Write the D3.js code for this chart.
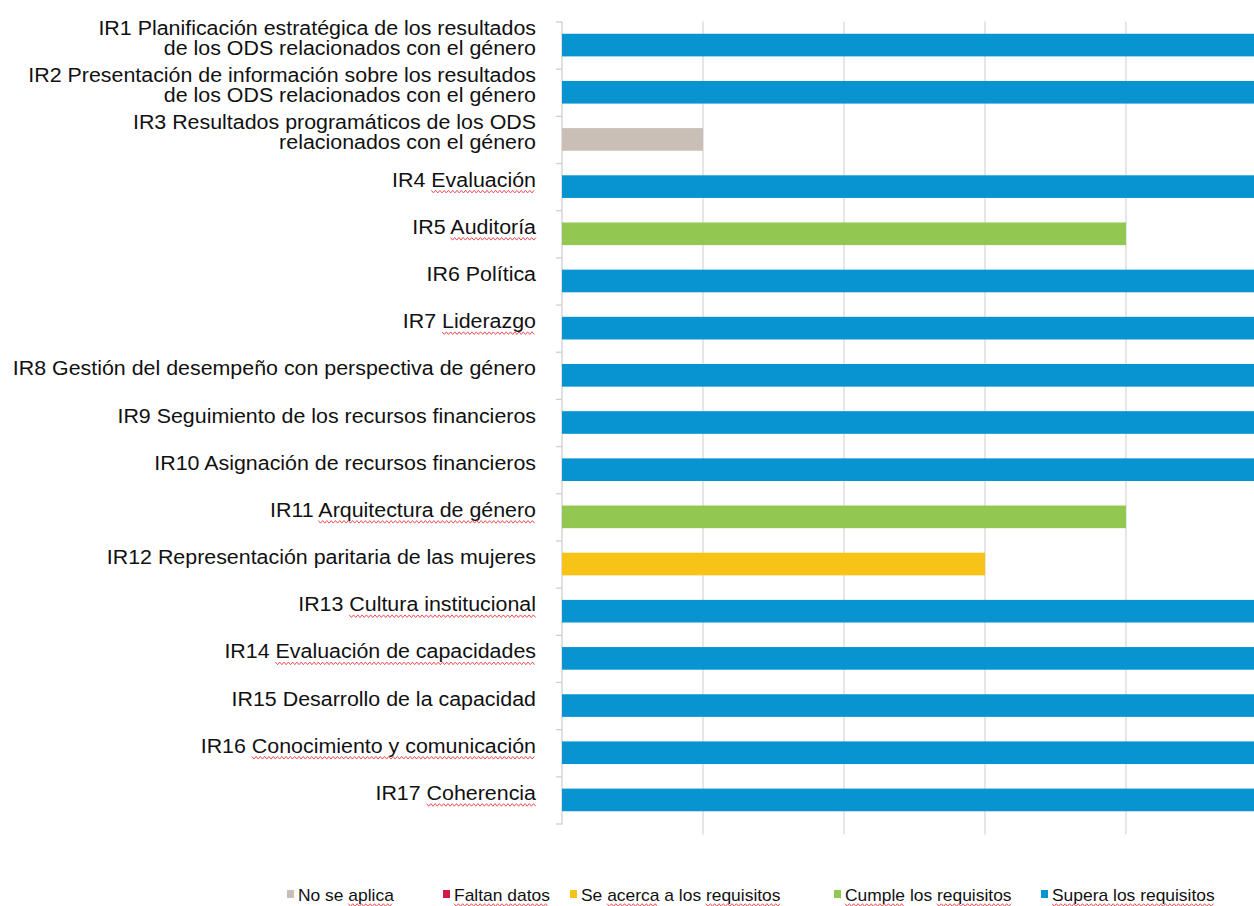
<!DOCTYPE html>
<html>
<head>
<meta charset="utf-8">
<script src="https://cdn.jsdelivr.net/npm/d3@7"></script>
<style>
  body { margin: 0; background: #fff; overflow: hidden; }
  text { font-family: "Liberation Sans", Arial, sans-serif; fill: #111; }
</style>
</head>
<body>
<div id="chart"></div>
<script>
// indicator labels (line breaks where the original wraps)
const categories = [
    ['IR1 Planificación estratégica de los resultados', 'de los ODS relacionados con el género'],
    ['IR2 Presentación de información sobre los resultados', 'de los ODS relacionados con el género'],
    ['IR3 Resultados programáticos de los ODS', 'relacionados con el género'],
    ['IR4 Evaluación'],
    ['IR5 Auditoría'],
    ['IR6 Política'],
    ['IR7 Liderazgo'],
    ['IR8 Gestión del desempeño con perspectiva de género'],
    ['IR9 Seguimiento de los recursos financieros'],
    ['IR10 Asignación de recursos financieros'],
    ['IR11 Arquitectura de género'],
    ['IR12 Representación paritaria de las mujeres'],
    ['IR13 Cultura institucional'],
    ['IR14 Evaluación de capacidades'],
    ['IR15 Desarrollo de la capacidad'],
    ['IR16 Conocimiento y comunicación'],
    ['IR17 Coherencia']
];
const values = [5, 5, 1, 5, 4, 5, 5, 5, 5, 5, 4, 3, 5, 5, 5, 5, 5];
const ratings = ['Supera los requisitos', 'Supera los requisitos', 'No se aplica', 'Supera los requisitos',
    'Cumple los requisitos', 'Supera los requisitos', 'Supera los requisitos', 'Supera los requisitos',
    'Supera los requisitos', 'Supera los requisitos', 'Cumple los requisitos', 'Se acerca a los requisitos',
    'Supera los requisitos', 'Supera los requisitos', 'Supera los requisitos', 'Supera los requisitos',
    'Supera los requisitos'];
const legendLabels = ['No se aplica', 'Faltan datos', 'Se acerca a los requisitos', 'Cumple los requisitos', 'Supera los requisitos'];
const legendColors = ['#c9bfb6', '#d01945', '#f7c316', '#92c851', '#0894d1'];
const xTicks = [0, 1, 2, 3, 4, 5];
// words the original screenshot shows with a spell-check squiggle
const squiggleLabels = {3: ['Evaluación'], 4: ['Auditoría'], 6: ['Liderazgo'], 10: ['Arquitectura de género'],
    12: ['Cultura institucional'], 13: ['Evaluación de capacidades'], 15: ['Conocimiento y comunicación'], 16: ['Coherencia']};
const squiggleLegend = [['aplica'], ['Faltan datos'], ['acerca', 'requisitos'], ['Cumple', 'requisitos'], ['Supera los requisitos']];

const width = 1254, height = 906;
const margin = {top: 21.5, left: 562, bottom: 82.5};

const svg = d3.select('#chart').append('svg')
    .attr('width', width)
    .attr('height', height);

const x = d3.scaleLinear()
    .domain([0, 5])
    .range([margin.left, margin.left + 5 * 141]);

const y = d3.scaleBand()
    .domain(d3.range(categories.length))
    .range([margin.top, height - margin.bottom])
    .paddingInner(0.52)
    .paddingOuter(0.26);

const color = d3.scaleOrdinal().domain(legendLabels).range(legendColors);
const plotBottom = height - margin.bottom;

function squiggle(g, x0, x1, yy) {
    const pts = [];
    for (let px = x0, k = 0; px <= x1; px += 2, k++) pts.push([px, yy + (k % 2 ? 1.3 : -1.3)]);
    g.append('path')
        .attr('d', d3.line()(pts))
        .attr('fill', 'none')
        .attr('stroke', '#e8424a')
        .attr('stroke-width', 0.9);
}

// underline words inside a text element (works in its local coords)
function underline(g, textNode, str, words, yy) {
    words.forEach(w => {
        const idx = str.indexOf(w);
        if (idx < 0) return;
        const s = textNode.getStartPositionOfChar(idx).x;
        const e = textNode.getEndPositionOfChar(idx + w.length - 1).x;
        squiggle(g, s, e, yy);
    });
}

// vertical gridlines, running a little below the plot
svg.append('g')
    .selectAll('line')
    .data(xTicks.slice(1))
    .enter().append('line')
    .attr('x1', d => x(d)).attr('x2', d => x(d))
    .attr('y1', margin.top).attr('y2', plotBottom + 11)
    .attr('stroke', '#d9d9d9')
    .attr('stroke-width', 1.3);

// category axis with small outward ticks at band boundaries
const axis = svg.append('g');
axis.append('line')
    .attr('x1', margin.left).attr('x2', margin.left)
    .attr('y1', margin.top).attr('y2', plotBottom + 1)
    .attr('stroke', '#d0d0d0').attr('stroke-width', 1.3);
const step = y.step();
axis.selectAll('.tk')
    .data(d3.range(categories.length + 1))
    .enter().append('line')
    .attr('class', 'tk')
    .attr('x1', margin.left - 6).attr('x2', margin.left)
    .attr('y1', i => margin.top + i * step + 0.5).attr('y2', i => margin.top + i * step + 0.5)
    .attr('stroke', '#d0d0d0').attr('stroke-width', 1.3);

// bars
svg.append('g')
    .selectAll('rect')
    .data(values)
    .enter().append('rect')
    .attr('x', x(0))
    .attr('y', (d, i) => y(i))
    .attr('width', d => x(d) - x(0))
    .attr('height', y.bandwidth())
    .attr('fill', (d, i) => color(ratings[i]));

// labels
const labels = svg.append('g');
categories.forEach((lines, i) => {
    const cy = y(i) + y.bandwidth() / 2 - 7;
    const lh = 20;
    const g = labels.append('g')
        .attr('transform', `translate(536,${cy}) scale(1.07,1)`);
    lines.forEach((ln, j) => {
        const ly = (j - (lines.length - 1) / 2) * lh;
        const t = g.append('text')
            .attr('text-anchor', 'end')
            .attr('font-size', 20)
            .attr('y', ly)
            .attr('dy', '0.35em')
            .text(ln);
        if (squiggleLabels[i]) underline(g, t.node(), ln, squiggleLabels[i], ly + 12);
    });
});

// legend
const legendX = [287, 443, 570, 834, 1041];
const legend = svg.append('g');
legendLabels.forEach((lab, i) => {
    legend.append('rect')
        .attr('x', legendX[i]).attr('y', 890)
        .attr('width', 7).attr('height', 8)
        .attr('fill', legendColors[i]);
    const g = legend.append('g')
        .attr('transform', `translate(${legendX[i] + 11},895) scale(1.09,1)`);
    const t = g.append('text')
        .attr('dy', '0.35em')
        .attr('font-size', 16)
        .text(lab);
    underline(g, t.node(), lab, squiggleLegend[i], 10);
});
</script>
</body>
</html>
